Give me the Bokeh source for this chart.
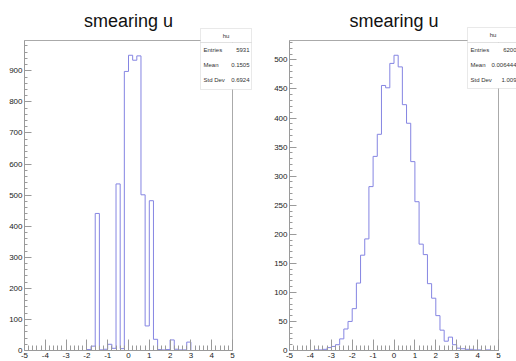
import numpy as np
from bokeh.plotting import figure
from bokeh.layouts import row
from bokeh.models import Range1d, FixedTicker, SingleIntervalTicker, BoxAnnotation, Label
from bokeh.embed import file_html
from bokeh.resources import INLINE

# ---------------- data ----------------
bin_lo, bin_hi, n_bins = -5.0, 5.0, 50

left_counts = [0, 0, 0, 0, 0, 0, 0, 0, 0, 0,
               0, 0, 0, 0, 0, 3, 14, 441, 2, 4,
               20, 7, 536, 6, 898, 950, 934, 948, 501, 79,
               482, 36, 3, 2, 3, 34, 4, 2, 2, 27,
               0, 0, 0, 0, 0, 0, 0, 0, 0, 0]

right_counts = [0, 0, 0, 0, 0, 0, 1, 1, 2, 5,
                7, 10, 20, 37, 50, 72, 116, 164, 192, 282,
                334, 372, 456, 452, 494, 508, 488, 423, 391, 325,
                256, 183, 165, 115, 90, 60, 35, 16, 23, 10,
                4, 3, 2, 2, 1, 1, 0, 1, 0, 0]

titles = ["smearing u", "smearing u"]
hist_name = "hu"
stat_names = ["Entries", "Mean", "Std Dev"]
left_stats = ["5931", "0.1505", "0.6924"]
right_stats = ["6200", "0.006444", "1.009"]
x_major_ticks = [-5, -4, -3, -2, -1, 0, 1, 2, 3, 4, 5]
x_tick_labels = ["-5", "-4", "-3", "-2", "-1", "0", "1", "2", "3", "4", "5"]

# ---------------- style / layout ----------------
LINE = "#8585e2"
FONT = "Liberation Sans"
AXC = "#9a9a9a"
PW, PH = 258, 361          # panel size in px
FT, FB = 40, 350           # histogram frame top / bottom (px from panel top)


def make_panel(counts, stats, title, fl, fr, y_interval, box_px):
    ymax = 1.05 * max(counts)
    sx = (fr - fl) / (bin_hi - bin_lo)       # px per x unit
    sy = (FB - FT) / ymax                     # px per y unit

    def dx(px):
        return bin_lo + (px - fl) / sx

    def dy(py):
        return (FB - py) / sy

    p = figure(width=PW, height=PH, output_backend="svg", toolbar_location=None,
               x_range=Range1d(dx(0), dx(PW)), y_range=Range1d(dy(PH), dy(0)),
               min_border=0, min_border_left=0, min_border_right=0,
               min_border_top=0, min_border_bottom=0)
    p.grid.visible = False
    p.outline_line_color = None
    p.background_fill_color = "white"
    p.border_fill_color = "white"

    # histogram frame
    p.quad(left=[bin_lo], right=[bin_hi], bottom=[0], top=[ymax],
           fill_color=None, line_color="#aaaaaa", line_width=1)

    # histogram outline (step)
    edges = np.linspace(bin_lo, bin_hi, n_bins + 1)
    ys = list(counts) + [counts[-1]]
    p.step(x=edges, y=ys, mode="after", line_color=LINE, line_width=1)

    xt = list(np.round(np.arange(bin_lo, bin_hi + 0.001, 0.2), 3))
    p.xaxis.ticker = FixedTicker(ticks=x_major_ticks, minor_ticks=xt)
    p.xaxis.major_label_overrides = {t: s for t, s in zip(x_major_ticks, x_tick_labels)}
    p.yaxis.ticker = SingleIntervalTicker(interval=y_interval, num_minor_ticks=5)
    p.xaxis.fixed_location = 0
    p.xaxis.bounds = (bin_lo, bin_hi)
    p.yaxis.fixed_location = bin_lo
    p.yaxis.bounds = (0, ymax)
    for ax, tin, mtin in ((p.xaxis, 11, 5), (p.yaxis, 7, 3)):
        ax.major_tick_in = tin
        ax.major_tick_out = 0
        ax.minor_tick_in = mtin
        ax.minor_tick_out = 0
        ax.axis_line_color = AXC
        ax.major_tick_line_color = AXC
        ax.minor_tick_line_color = AXC
        ax.major_label_text_font = FONT
        ax.major_label_text_font_size = "8px"
        ax.major_label_text_color = "#222222"
        ax.major_label_standoff = 2

    # title
    p.add_layout(Label(x=(bin_lo + bin_hi) / 2, y=dy(20), text=title,
                       text_align="center", text_baseline="alphabetic",
                       text_font=FONT, text_font_size="18px", text_color="#111111"))

    # statistics box
    bl, br, bt, bm, bb = box_px
    for (t, b) in ((bt, bm), (bm, bb)):
        p.add_layout(BoxAnnotation(left=dx(bl), right=dx(br), top=dy(t), bottom=dy(b),
                                   fill_color="white", fill_alpha=1.0,
                                   line_color="#b5b5b5", line_width=1, level="overlay"))
    p.add_layout(Label(x=dx((bl + br) / 2), y=dy((bt + bm) / 2), text=hist_name,
                       text_align="center", text_baseline="middle", text_font=FONT,
                       text_font_size="6px", text_color="#333333", level="overlay"))
    row_py = [49.5, 64.5, 79.5]
    for name, val, ry in zip(stat_names, stats, row_py):
        p.add_layout(Label(x=dx(bl + 3), y=dy(ry), text=name,
                           text_align="left", text_baseline="middle", text_font=FONT,
                           text_font_size="6px", text_color="#333333", level="overlay"))
        p.add_layout(Label(x=dx(br - 2), y=dy(ry), text=val,
                           text_align="right", text_baseline="middle", text_font=FONT,
                           text_font_size="6px", text_color="#333333", level="overlay"))
    return p


p1 = make_panel(left_counts, left_stats, titles[0], 24, 232, 100, (200, 251, 28, 42, 89))
p2 = make_panel(right_counts, right_stats, titles[1], 31, 240, 50, (209, 260, 27, 42, 88))

layout = row(p1, p2, spacing=0)
open("out.html", "w").write(file_html(layout, INLINE))
